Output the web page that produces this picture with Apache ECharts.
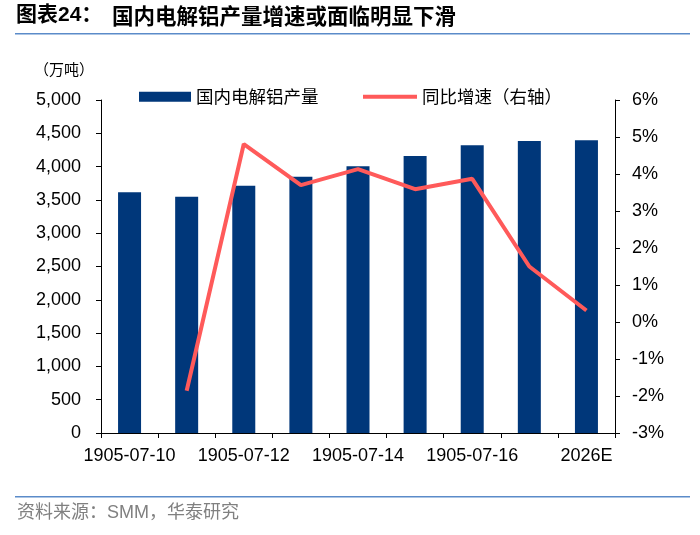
<!DOCTYPE html>
<html><head><meta charset="utf-8">
<script src="https://cdn.jsdelivr.net/npm/echarts@6/dist/echarts.min.js"></script>
<style>html,body{margin:0;padding:0;background:#fff}#c{width:700px;height:535px}</style>
</head><body><div id="c"></div>
<script>
const categories = ["1905-07-10","1905-07-11","1905-07-12","1905-07-13","1905-07-14","1905-07-15","1905-07-16","1905-07-17","2026E"];
const production = [3614, 3548, 3713, 3849, 4006, 4159, 4320, 4384, 4395];
const yoyGrowth = [null, -1.86, 4.81, 3.70, 4.13, 3.59, 3.87, 1.50, 0.31];
const leftTicks = [0, 5000, 500];
const rightTicks = [-3, 6, 1];
const barName = "国内电解铝产量";
const lineName = "同比增速（右轴）";

const latin = '"Liberation Sans", Arial, sans-serif';
const cjk = '"Noto Sans CJK SC", sans-serif';
const chart = echarts.init(document.getElementById('c'));
chart.setOption({
  animation: false,
  textStyle: { fontFamily: latin },
  grid: { left: 101, right: 85, top: 100, bottom: 102 },
  graphic: [
    { type: 'text', left: 16, top: 5, style: { text: '图表24：', font: 'bold 21px "Liberation Sans", "Noto Sans CJK SC", sans-serif', fill: '#000' } },
    { type: 'text', left: 112, top: 5, style: { text: '国内电解铝产量增速或面临明显下滑', font: 'bold 21.5px "Noto Sans CJK SC", sans-serif', fill: '#000' } },
    { type: 'rect', shape: { x: 15, y: 33, width: 675, height: 1.5 }, style: { fill: '#5B8BC9' } },
    { type: 'text', left: 34, top: 62, style: { text: '（万吨）', font: '15px "Noto Sans CJK SC", sans-serif', fill: '#000' } },
    { type: 'rect', shape: { x: 15, y: 496, width: 675, height: 1.5 }, style: { fill: '#5B8BC9' } },
    { type: 'text', left: 17, top: 504, style: { text: '资料来源：SMM，华泰研究', font: '18px "Liberation Sans", "Noto Sans CJK SC", sans-serif', fill: '#808080' } }
  ],
  legend: [
    { data: [{ name: barName, icon: 'rect' }], left: 139, top: 88, padding: 0, itemWidth: 52, itemHeight: 10, itemGap: 10,
      textStyle: { fontSize: 17.5, color: '#000', fontFamily: cjk } },
    { data: [{ name: lineName, icon: 'rect' }], left: 363, top: 88, padding: 0, itemWidth: 54, itemHeight: 4, itemGap: 8,
      textStyle: { fontSize: 17.5, color: '#000', fontFamily: cjk } }
  ],
  xAxis: {
    type: 'category', data: categories, boundaryGap: true,
    axisLine: { lineStyle: { color: '#000', width: 1 } },
    axisTick: { show: true, length: 5, alignWithLabel: false, interval: 0, lineStyle: { color: '#000' } },
    axisLabel: { interval: 1, fontSize: 18, color: '#000', margin: 14, fontFamily: latin }
  },
  yAxis: [
    { type: 'value', min: leftTicks[0], max: leftTicks[1], interval: leftTicks[2],
      axisLine: { show: true, lineStyle: { color: '#000' } },
      axisTick: { show: true, length: 5, lineStyle: { color: '#000' } },
      splitLine: { show: false },
      axisLabel: { fontSize: 18, color: '#000', margin: 20, fontFamily: latin,
        formatter: v => v.toLocaleString('en-US') } },
    { type: 'value', min: rightTicks[0], max: rightTicks[1], interval: rightTicks[2], position: 'right',
      axisLine: { show: true, lineStyle: { color: '#000' } },
      axisTick: { show: true, length: 5, lineStyle: { color: '#000' } },
      splitLine: { show: false },
      axisLabel: { fontSize: 18, color: '#000', margin: 17, fontFamily: latin,
        formatter: v => v + '%' } }
  ],
  series: [
    { name: barName, type: 'bar', data: production, barWidth: 23, itemStyle: { color: '#00377A' } },
    { name: lineName, type: 'line', yAxisIndex: 1, data: yoyGrowth, symbol: 'none',
      lineStyle: { color: '#FF5A5A', width: 4 }, itemStyle: { color: '#FF5A5A' } }
  ]
});
</script></body></html>
